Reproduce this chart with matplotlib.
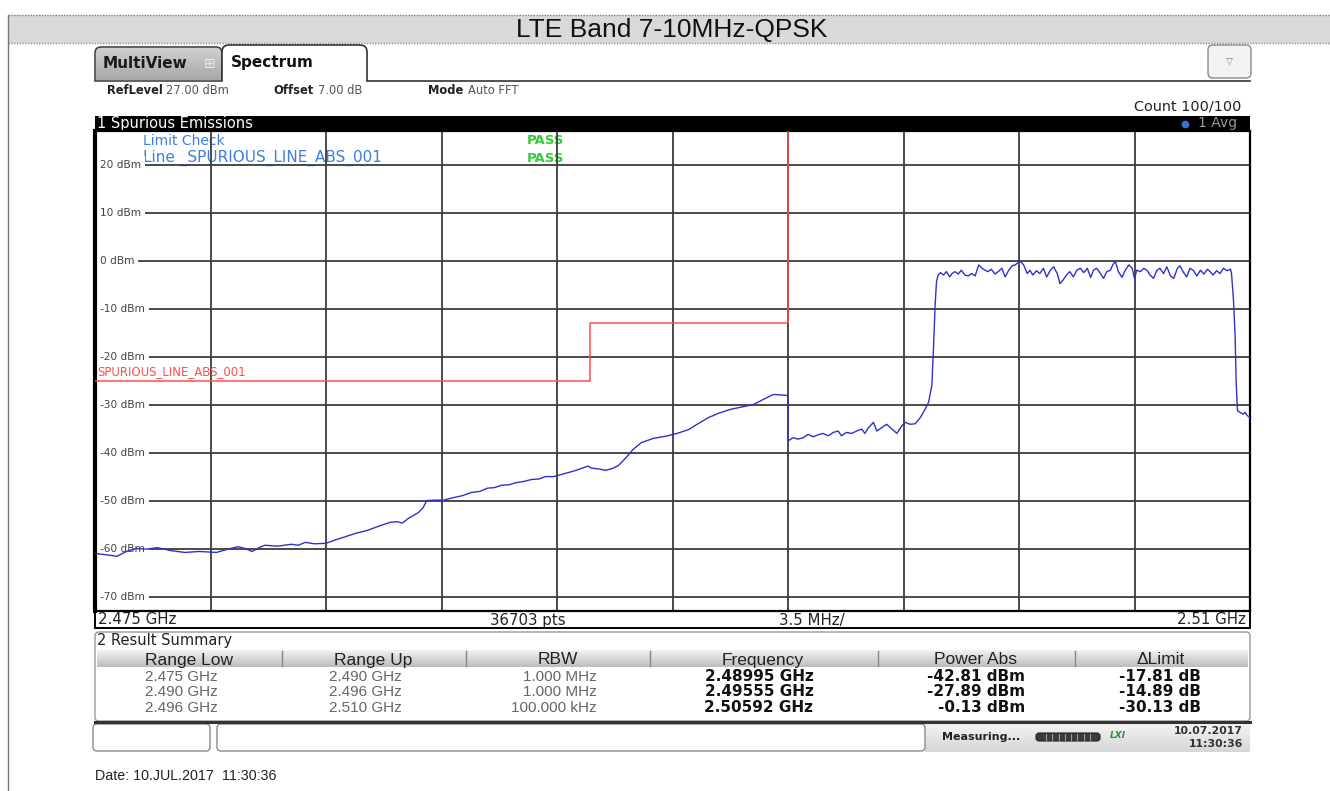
import numpy as np
import matplotlib
matplotlib.use('Agg')
import matplotlib.pyplot as plt
from matplotlib.patches import Rectangle, FancyBboxPatch

# ---- data ----
# trace: frequency in MHz, level in dBm
trace_mhz = [
    2475.00, 2475.35, 2475.67, 2475.95, 2476.23, 2476.58, 2476.89, 2477.28, 2477.73, 2478.15,
    2478.68, 2479.03, 2479.34, 2479.55, 2479.76, 2479.97, 2480.15, 2480.53, 2480.95, 2481.16,
    2481.37, 2481.65, 2482.00, 2482.28, 2482.60, 2482.91, 2483.26, 2483.61, 2483.96, 2484.17,
    2484.31, 2484.52, 2484.80, 2484.94, 2485.05, 2485.33, 2485.57, 2485.85, 2486.12, 2486.41,
    2486.65, 2486.90, 2487.10, 2487.32, 2487.55, 2487.74, 2488.00, 2488.23, 2488.45, 2488.65,
    2488.90, 2489.11, 2489.33, 2489.53, 2489.95, 2490.02, 2490.26, 2490.47, 2490.68, 2490.86,
    2491.10, 2491.31, 2491.56, 2491.94, 2492.29, 2492.64, 2492.99, 2493.27, 2493.59, 2493.90,
    2494.25, 2494.60, 2494.95, 2495.23, 2495.55, 2495.83, 2496.00,
    2496.00, 2496.15, 2496.30, 2496.46, 2496.61, 2496.76, 2496.91, 2497.06, 2497.22, 2497.37,
    2497.52, 2497.62, 2497.77, 2497.93, 2498.08, 2498.23, 2498.33, 2498.44, 2498.59, 2498.69,
    2498.84, 2498.99, 2499.15, 2499.30, 2499.45, 2499.55, 2499.70, 2499.85, 2500.01, 2500.16,
    2500.26, 2500.36, 2500.41, 2500.46, 2500.50, 2500.55, 2500.62, 2500.71, 2500.80, 2500.90,
    2500.97, 2501.06, 2501.16, 2501.25, 2501.36, 2501.46, 2501.57, 2501.67, 2501.78, 2501.88,
    2501.97, 2502.06, 2502.16, 2502.27, 2502.37, 2502.48, 2502.58, 2502.69, 2502.79, 2502.88,
    2502.98, 2503.05, 2503.14, 2503.25, 2503.33, 2503.42, 2503.53, 2503.63, 2503.74, 2503.84,
    2503.95, 2504.05, 2504.16, 2504.24, 2504.33, 2504.44, 2504.54, 2504.65, 2504.75, 2504.86,
    2504.96, 2505.07, 2505.17, 2505.26, 2505.35, 2505.45, 2505.56, 2505.66, 2505.77, 2505.84,
    2505.92, 2506.01, 2506.12, 2506.22, 2506.33, 2506.43, 2506.50, 2506.57, 2506.68, 2506.78,
    2506.89, 2506.97, 2507.08, 2507.17, 2507.27, 2507.38, 2507.48, 2507.59, 2507.69, 2507.80,
    2507.88, 2507.97, 2508.08, 2508.18, 2508.29, 2508.39, 2508.50, 2508.60, 2508.71, 2508.79,
    2508.88, 2508.99, 2509.09, 2509.20, 2509.30, 2509.41, 2509.44, 2509.50, 2509.55, 2509.58,
    2509.62, 2509.70, 2509.78, 2509.85, 2509.92, 2510.00,
]
trace_dbm = [
    -61.0, -61.3, -61.6, -60.6, -60.0, -60.1, -59.8, -60.4, -60.8, -60.6,
    -60.8, -60.1, -59.6, -60.0, -60.6, -59.8, -59.3, -59.5, -59.1, -59.3,
    -58.7, -59.0, -58.9, -58.2, -57.5, -56.8, -56.2, -55.3, -54.5, -54.4,
    -54.7, -53.6, -52.5, -51.5, -50.0, -49.9, -49.9, -49.4, -49.0, -48.3,
    -48.1, -47.4, -47.3, -46.8, -46.7, -46.3, -46.0, -45.6, -45.5, -45.0,
    -45.0, -44.6, -44.2, -43.8, -42.8, -43.2, -43.4, -43.7, -43.3, -42.7,
    -41.0, -39.3, -37.9, -37.0, -36.6, -36.0, -35.2, -34.0, -32.7, -31.8,
    -31.0, -30.5, -30.0, -29.0, -27.9, -28.0, -28.1,
    -37.6, -36.9, -37.2, -36.9, -36.2, -36.7, -36.3, -36.0, -36.5, -35.8,
    -35.5, -36.5, -35.8, -36.0, -35.5, -35.1, -36.0, -34.8, -33.7, -35.5,
    -34.8, -34.1, -35.1, -36.0, -34.4, -33.7, -34.1, -34.0, -32.7, -30.9,
    -29.5, -26.0, -18.0, -9.0, -4.4, -3.0, -2.5, -3.0, -2.3, -3.4,
    -2.7, -2.3, -2.8, -2.0, -3.0, -3.2, -2.7, -3.2, -0.9, -1.6,
    -2.0, -2.3, -1.8, -2.8, -2.3, -1.6, -3.4, -2.0, -1.1, -0.9,
    -0.4, -0.2, -0.9, -2.7, -2.0, -3.0, -2.1, -2.7, -1.6, -3.4,
    -2.0, -1.3, -2.7, -4.8, -4.1, -3.0, -2.3, -3.4, -2.0, -1.6,
    -2.5, -1.6, -3.5, -2.0, -1.6, -2.5, -3.7, -2.3, -2.0, -0.9,
    -0.13, -2.3, -3.5, -2.0, -0.9, -1.6, -3.7, -2.0, -2.3, -1.6,
    -2.1, -3.0, -3.7, -2.1, -1.6, -2.7, -1.3, -3.2, -3.7, -1.6,
    -1.1, -2.3, -3.4, -1.6, -2.1, -3.2, -2.0, -2.8, -1.8, -2.3,
    -3.0, -2.1, -2.7, -1.6, -2.1, -1.8, -2.7, -8.3, -16.0, -25.0,
    -31.3, -31.6, -32.0, -31.6, -32.3, -32.7,
]

# limit line ranges (GHz) and limits (dBm)
range_low = [2.475, 2.490, 2.496]
range_up = [2.490, 2.496, 2.510]
limit_dbm = [-25, -13, 30]

y_ticks = [20, 10, 0, -10, -20, -30, -40, -50, -60, -70]
ref_level = 27

# result summary table
col_names = ['Range Low', 'Range Up', 'RBW', 'Frequency', 'Power Abs', '\u0394Limit']
col_low = ['2.475 GHz', '2.490 GHz', '2.496 GHz']
col_up = ['2.490 GHz', '2.496 GHz', '2.510 GHz']
col_rbw = ['1.000 MHz', '1.000 MHz', '100.000 kHz']
col_freq = ['2.48995 GHz', '2.49555 GHz', '2.50592 GHz']
col_pow = ['-42.81 dBm', '-27.89 dBm', '-0.13 dBm']
col_dlim = ['-17.81 dB', '-14.89 dB', '-30.13 dB']

NARROW = 'Liberation Sans'
UIF = 'DejaVu Sans'

W, H = 1330, 791
fig = plt.figure(figsize=(W / 100, H / 100), dpi=100)
fig.patch.set_facecolor('white')

# pixel-space overlay for the instrument chrome
ui = fig.add_axes([0, 0, 1, 1])
ui.set_xlim(0, W)
ui.set_ylim(H, 0)
ui.axis('off')


def rect(x0, y0, x1, y1, fc='none', ec='none', lw=1, z=1):
    ui.add_patch(Rectangle((x0, y0), x1 - x0, y1 - y0, fc=fc, ec=ec, lw=lw, zorder=z))


def rrect(x0, y0, x1, y1, fc='white', ec='#555', lw=1, z=1, r=5):
    ui.add_patch(FancyBboxPatch((x0, y0), x1 - x0, y1 - y0,
                                boxstyle='round,pad=0,rounding_size=%d' % r,
                                fc=fc, ec=ec, lw=lw, zorder=z))


def grad(x0, y0, x1, y1, c_top, c_bot, z=1):
    g = np.linspace(0, 1, 32)[:, None]
    a = np.array(matplotlib.colors.to_rgb(c_top))
    b = np.array(matplotlib.colors.to_rgb(c_bot))
    img = a[None, None, :] * (1 - g[:, :, None]) + b[None, None, :] * g[:, :, None]
    ui.imshow(img, extent=(x0, x1, y1, y0), aspect='auto', zorder=z, interpolation='bilinear')


# title bar
ui.plot([8, 8], [15, H], color='#777', lw=1, zorder=2)
rect(8, 15, W, 43, fc='#d9d9d9', z=1)
ui.plot([8, W], [15, 15], color='#888', lw=1, ls=(0, (1, 1)), zorder=2)
ui.plot([8, W], [43, 43], color='#888', lw=1, ls=(0, (1, 1)), zorder=2)
ui.text(672, 30, 'LTE Band 7-10MHz-QPSK', family='Liberation Sans', fontsize=19,
        ha='center', va='center', color='#111')

# tabs
grad(96, 48, 221, 80, '#d0d0d0', '#a8a8a8', z=1.5)
rrect(95, 47, 222, 84, fc='none', ec='#444', lw=1.2, z=2, r=6)
ui.text(103, 64, 'MultiView', family=UIF, weight='bold', fontsize=11, va='center', color='#1a1a1a', zorder=3)
ui.text(210, 64, '\u229e', family=UIF, fontsize=10, va='center', ha='center', color='#e8e8e8', zorder=3)
rrect(222, 45, 367, 90, fc='white', ec='#333', lw=1.2, z=3, r=7)
ui.text(231, 62, 'Spectrum', family=UIF, weight='bold', fontsize=11, va='center', color='#111', zorder=4)
rect(90, 81, 1255, 115, fc='white', z=4)
ui.plot([95, 222], [80.5, 80.5], color='#444', lw=1.2, zorder=5)
ui.plot([367, 1250], [80.5, 80.5], color='#333', lw=1.2, zorder=5)
rrect(1208, 45, 1251, 78, fc='#f2f2f2', ec='#8a8a8a', lw=1, z=2, r=5)
ui.text(1229.5, 62, '\u25bd', family=UIF, fontsize=6.5, ha='center', va='center', color='#777', zorder=3)

# setting line
for x, s, bold in [(107, 'RefLevel', True), (166, '27.00 dBm', False),
                   (273, 'Offset', True), (318, '7.00 dB', False),
                   (428, 'Mode', True), (468, 'Auto FFT', False)]:
    ui.text(x, 90, s, family=UIF, fontsize=8.3, va='center', zorder=6,
            weight='bold' if bold else 'normal', color='#222' if bold else '#555')
ui.text(1241, 106, 'Count 100/100', family=UIF, fontsize=10.4, ha='right', va='center', color='#222', zorder=6)

# window header
rect(95, 116, 1250, 131, fc='black', z=6)
ui.text(97, 123.5, '1 Spurious Emissions', family=UIF, fontsize=10.5, color='white', va='center', zorder=7)
ui.plot([1185], [123.5], marker='o', ms=4.5, color='#3a6fd8', zorder=7)
ui.text(1237, 123.5, '1 Avg', family=UIF, fontsize=10, color='#999', ha='right', va='center', zorder=7)

# ---- spectrum diagram ----
ax = fig.add_axes([95 / W, 1 - 611 / H, 1155 / W, 480 / H])
ax.set_zorder(5)
ax.set_facecolor('white')
f0, f1 = range_low[0] * 1000, range_up[-1] * 1000
ax.set_xlim(f0, f1)
ax.set_ylim(ref_level - 100, ref_level)
ax.set_xticks(np.linspace(f0, f1, 11))
ax.set_yticks(y_ticks)
ax.tick_params(length=0, labelleft=False, labelbottom=False)
ax.grid(True, color='#3c3c3c', lw=1.3, zorder=1)
ax.set_axisbelow(True)
for sp in ax.spines.values():
    sp.set_color('black')
    sp.set_linewidth(1.6)
ax.spines['left'].set_linewidth(3)

for v in y_ticks:
    ax.text(f0 + 0.16, v, '%d dBm' % v, family=UIF, fontsize=7.6, color='#444', va='center', ha='left',
            bbox=dict(fc='white', ec='none', pad=2.5), zorder=2)

# limit line as steps
lim_x, lim_y = [], []
for lo, up, lv in zip(range_low, range_up, limit_dbm):
    lim_x += [lo * 1000, up * 1000]
    lim_y += [lv, lv]
ax.plot(lim_x, lim_y, color='#ff4d4d', lw=1.1, zorder=3)
ax.text(f0 + 0.06, limit_dbm[0] + 0.6, 'SPURIOUS_LINE_ABS_001', family=UIF, fontsize=8.5,
        color='#ff4d4d', va='bottom', ha='left', zorder=3)

ax.plot(trace_mhz, trace_dbm, color='#3030cc', lw=1.0, zorder=4)

ax.text(143, 141, 'Limit Check', transform=ui.transData, family=UIF, fontsize=10,
        color='#3d7fe0', va='center', zorder=0.5)
ax.text(143, 162, 'Line _SPURIOUS_LINE_ABS_001', transform=ui.transData, family=UIF, fontsize=11,
        color='#3d7fe0', va='baseline', zorder=0.5)
for yy in (141, 158):
    ax.text(527, yy, 'PASS', transform=ui.transData, family=UIF, fontsize=9.5, weight='bold',
            color='#33cc33', va='center', zorder=0.5)

# ---- info bar under diagram ----
rect(95, 611, 1250, 628, fc='white', ec='black', lw=1.4, z=3)
for x, s, ha in [(98, '%.3f GHz' % range_low[0], 'left'), (490, '36703 pts', 'left'),
                 (779, '3.5 MHz/', 'left'), (1246, '%.2f GHz' % range_up[-1], 'right')]:
    ui.text(x, 620, s, family=UIF, fontsize=10.8, ha=ha, va='center', color='#222', zorder=4)

# ---- result summary ----
rrect(95, 632, 1250, 721, fc='white', ec='#999', lw=1, z=2, r=4)
ui.text(97, 641, '2 Result Summary', family=UIF, fontsize=10.5, va='center', color='#222', zorder=4)
grad(97, 650, 1248, 667, '#f2f2f2', '#bdbdbd', z=3)
for xs in [282, 466, 650, 878, 1075]:
    ui.plot([xs, xs], [651, 666], color='#888', lw=1, zorder=4)
for xc, s in zip([189, 373, 558, 763, 975, 1161], col_names):
    ui.text(xc, 664.5, s, family=NARROW, fontsize=12.5, ha='center', va='baseline', color='#222', zorder=4)
row_base = [681, 696.5, 712]
for i, yy in enumerate(row_base):
    ui.text(145, yy, col_low[i], family=NARROW, fontsize=11, va='baseline', color='#666', zorder=4)
    ui.text(329, yy, col_up[i], family=NARROW, fontsize=11, va='baseline', color='#666', zorder=4)
    ui.text(597, yy, col_rbw[i], family=NARROW, fontsize=11, ha='right', va='baseline', color='#666', zorder=4)
    ui.text(759, yy, col_freq[i], family=UIF, fontsize=11, weight='bold', ha='center', va='baseline',
            color='#111', zorder=4)
    ui.text(1025, yy, col_pow[i], family=UIF, fontsize=11, weight='bold', ha='right', va='baseline',
            color='#111', zorder=4)
    ui.text(1201, yy, col_dlim[i], family=UIF, fontsize=11, weight='bold', ha='right', va='baseline',
            color='#111', zorder=4)
ui.plot([95, 1250], [721.5, 721.5], color='#333', lw=2.2, zorder=5)

# ---- status bar ----
grad(925, 723, 1250, 752, '#f4f4f4', '#d6d6d6', z=2)
rrect(93, 724, 210, 751, fc='white', ec='#8a8a8a', lw=1, z=3, r=4)
rrect(217, 724, 925, 751, fc='white', ec='#8a8a8a', lw=1, z=3, r=4)
ui.text(942, 737, 'Measuring...', family=UIF, fontsize=8, weight='bold', va='center', color='#222', zorder=4)
rrect(1036, 733, 1100, 741, fc='#3a3a3a', ec='#222', lw=0.8, z=4, r=3)
for xs in np.linspace(1046, 1090, 8):
    ui.plot([xs, xs], [734, 740], color='#9a9a9a', lw=0.8, zorder=5)
ui.text(1118, 736, 'LXI', family=UIF, fontsize=6.5, weight='bold', style='italic', ha='center',
        va='center', color='#3a8a3a', zorder=4)
ui.text(1243, 731, '10.07.2017', family=UIF, fontsize=7.8, weight='bold', ha='right', va='center',
        color='#333', zorder=4)
ui.text(1243, 744, '11:30:36', family=UIF, fontsize=7.8, weight='bold', ha='right', va='center',
        color='#333', zorder=4)

ui.text(95, 776, 'Date: 10.JUL.2017  11:30:36', family=NARROW, fontsize=10.3, va='center',
        color='#222', zorder=4)

fig.savefig('out.png', dpi=100)
